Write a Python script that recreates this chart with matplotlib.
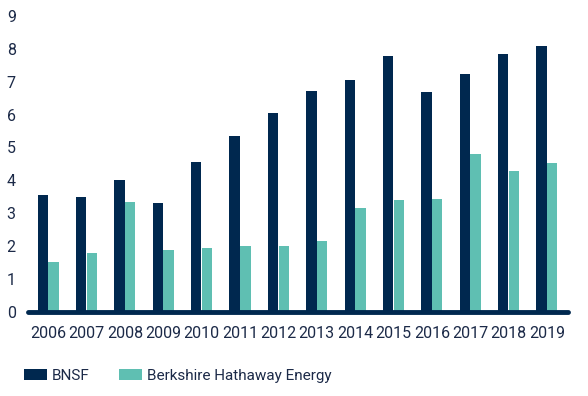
import matplotlib.pyplot as plt
import numpy as np

years = ["2006", "2007", "2008", "2009", "2010", "2011", "2012",
         "2013", "2014", "2015", "2016", "2017", "2018", "2019"]
bnsf = [3.55, 3.51, 4.0, 3.30, 4.55, 5.36, 6.06, 6.73, 7.06, 7.79, 6.70, 7.24, 7.85, 8.09]
bhe = [1.52, 1.79, 3.33, 1.88, 1.94, 2.0, 2.0, 2.15, 3.15, 3.39, 3.45, 4.79, 4.30, 4.52]

navy = "#00284f"
teal = "#5fbfb2"
text_col = "#1c2a48"

plt.rcParams['font.family'] = ['Roboto', 'DejaVu Sans']

fig = plt.figure(figsize=(5.88, 3.96), dpi=100)
ax = fig.add_axes([0.048, 0.212, 0.918, 0.748])

x = np.arange(len(years))
w = 0.28
ax.bar(x - w / 2, bnsf, width=w * 0.97, color=navy, label="BNSF")
ax.bar(x + w / 2, bhe, width=w * 0.97, color=teal, label="Berkshire Hathaway Energy")

ax.set_xlim(-0.52, 13.55)
ax.set_ylim(0, 9)
ax.set_yticks(range(10))
ax.set_xticks(x)
ax.set_xticklabels(years)

for s in ["top", "right", "left"]:
    ax.spines[s].set_visible(False)
ax.spines["bottom"].set_color(navy)
ax.spines["bottom"].set_linewidth(3.5)
ax.spines["bottom"].set_capstyle("round")

ax.tick_params(axis="both", length=0, labelsize=11.5, colors=text_col)
ax.tick_params(axis="x", pad=10)
ax.tick_params(axis="y", pad=9)

ax.legend(loc="upper left", bbox_to_anchor=(-0.034, -0.145), ncol=2, frameon=False,
          fontsize=11, labelcolor=text_col, handlelength=1.5, handleheight=0.75,
          handletextpad=0.35, columnspacing=1.9)

fig.savefig("out.png", dpi=100)
